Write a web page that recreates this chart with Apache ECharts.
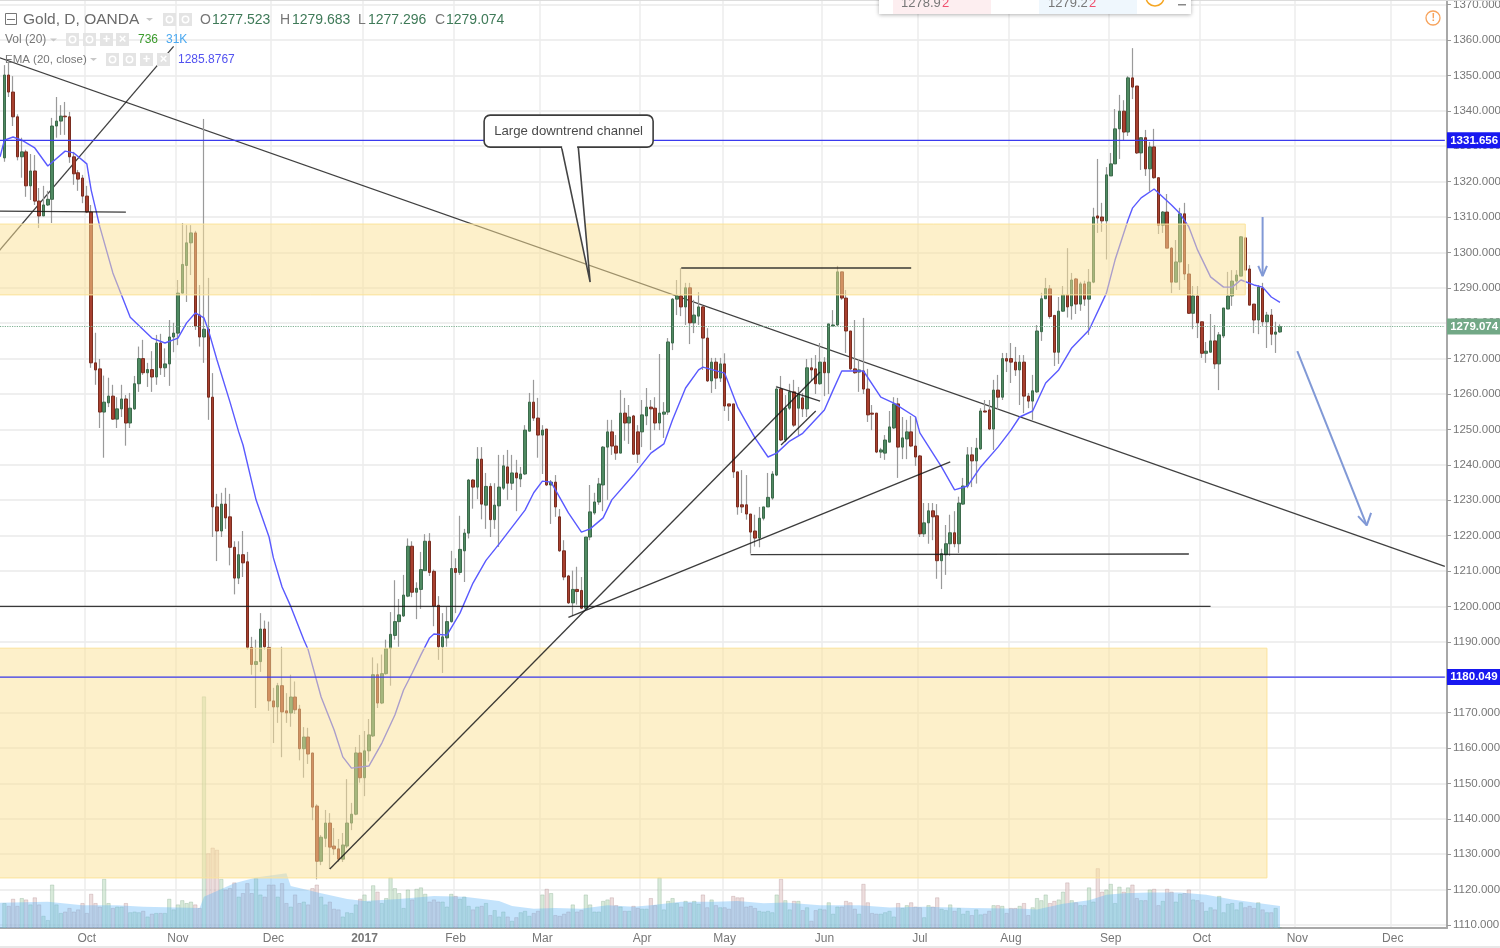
<!DOCTYPE html>
<html>
<head>
<meta charset="utf-8">
<title>Gold, D, OANDA</title>
<script src="https://cdn.jsdelivr.net/npm/echarts@6/dist/echarts.min.js"></script>
<style>
    html, body { margin: 0; padding: 0; background: #fff; }
    #chart { width: 1500px; height: 948px; filter: blur(0.35px); }
</style>
</head>
<body>
<div id="chart"></div>
<script>
// candles, oldest first
const opens = [
    1326.7,1350.1,1345.3,1338.3,1327,1328.4,1318.8,1323,1314.5,1310.3,
    1313.4,1315,1335.7,1337.1,1338.5,1338.3,1327,1322.5,1321,1315.9,
    1311.4,1268.8,1267.1,1254.9,1257.5,1259.4,1252.9,1255.8,1258.6,1251.8,
    1255.8,1262.9,1270,1266,1266.9,1264.8,1274.4,1267.4,1268.5,1276.1,
    1277.2,1288.5,1296.3,1302.7,1305.5,1282.3,1276.1,1278.3,1259.1,1228.1,
    1221.3,1228.9,1225.3,1216.7,1208,1214.6,1212.6,1188.4,1183.6,1184.4,
    1193.6,1188.4,1173.3,1171.6,1177.6,1170.5,1169.9,1174.4,1171,1159.8,
    1163.1,1158.6,1143.6,1128,1134.5,1138.8,1132.3,1131.5,1128.6,1132.3,
    1138.8,1141.3,1158.6,1151.6,1159.2,1163.4,1180.7,1172.7,1181,1188.1,
    1191.8,1195.7,1197.3,1202.9,1217,1204,1204.8,1210.1,1218.4,1209.9,
    1200.3,1188.6,1191.1,1195.7,1210.7,1209.6,1215.7,1220.7,1235.7,1233.7,
    1241.6,1228.6,1233.9,1224.5,1228.4,1233.4,1239.4,1234.8,1237.7,1236,
    1237.4,1249.5,1257.7,1253.2,1248.4,1250.1,1234.3,1235.1,1225.3,1215.7,
    1208.6,1201,1204.8,1204.5,1199.5,1219.6,1226.4,1229.5,1234.3,1245,
    1249.3,1245.3,1243.3,1254.6,1251.8,1253.8,1249.3,1249.3,1253.8,1256.3,
    1256,1251.8,1254.3,1254.9,1274.4,1286.8,1287.7,1284.6,1290,1280.1,
    1282,1284.6,1275.8,1263.7,1269,1264.5,1268.5,1257.2,1257.2,1238,
    1228.7,1228.7,1226.1,1221.3,1219.3,1224.9,1228.1,1230.6,1237.1,1261.4,
    1247,1256,1260.6,1256,1258.9,1255.8,1267.4,1267.1,1262.9,1269,
    1266,1279.2,1279.5,1294.5,1287.1,1277.8,1267.1,1266.2,1266.5,1261.4,
    1254.6,1254.6,1243.6,1243.3,1246.4,1250.4,1257.2,1245,1247.3,1249.3,
    1245.3,1242.5,1220.5,1223.6,1227,1225.6,1212.9,1214.6,1217.7,1220.8,
    1217.7,1228.9,1234,1242.8,1241.1,1244.5,1255.2,1255.5,1250.1,1261.1,
    1259.1,1270,1270,1269,1266.8,1269,1259.4,1258,1260.6,1277.6,
    1286.9,1289.7,1282.2,1271.8,1283.4,1288,1284.9,1292.5,1285.4,1291.1,
    1286.8,1291.6,1310.3,1310,1308.9,1321.6,1325,1334.9,1339.9,1334,
    1349.3,1347,1328.1,1332.4,1323.6,1329.8,1321.1,1307.7,1311.4,1301.2,
    1291.6,1297.3,1310.9,1293.9,1282.8,1287.7,1280.4,1271.5,1271.8,1275,
    1268.5,1276.4,1284,1287.7,1291.9,1293.3,1304.1,1295.3,1285.4,1280.9,
    1289.9,1280.4,1282.3,1276.9,1277.523
];
const closes = [
    1350.1,1345.3,1338.3,1327,1328.4,1318.8,1323,1314.5,1310.3,1313.4,
    1315,1335.7,1337.1,1338.5,1338.3,1327,1322.2,1320.7,1315.9,1311.4,
    1268.8,1266.8,1254.9,1257.7,1259.4,1252.9,1255.8,1258.6,1251.8,1256,
    1262.9,1270,1266,1266.9,1264.8,1274.4,1267.4,1268.5,1276.1,1277.2,
    1288.5,1296.6,1302.7,1305.5,1279.2,1276.1,1278.3,1259.1,1228.1,1221.3,
    1228.9,1225,1216.7,1208,1214.6,1212.3,1188.4,1183.6,1184.4,1193.6,
    1188.6,1173.3,1171.6,1177.6,1170.2,1169.9,1174.4,1170.8,1159.8,1163.1,
    1158.3,1143.3,1128,1134.8,1138.8,1132,1131.5,1128.6,1132.6,1138.8,
    1141.3,1158.6,1151.6,1159.2,1163.7,1180.7,1172.7,1181,1188.1,1192.1,
    1195.7,1197.6,1203.2,1217,1204,1205.1,1210.4,1218.4,1209.6,1200.1,
    1188.6,1191.4,1195.7,1210.7,1209.6,1216.1,1220.7,1235.7,1233.7,1241.6,
    1228.9,1233.9,1224.5,1228.6,1233.7,1239.7,1234.8,1237.7,1236.3,1237.4,
    1249.8,1257.7,1253.2,1248.4,1249.8,1234.3,1235.1,1228.1,1215.7,1208.3,
    1201,1204.8,1204.2,1199.5,1219.6,1226.7,1229.5,1234.6,1245,1249.3,
    1245.3,1243.3,1254.6,1251.8,1253.5,1243,1243,1254.1,1256.3,1255.8,
    1251.8,1254.6,1254.9,1274.7,1286.8,1287.7,1284.6,1290,1280.1,1282.3,
    1284.6,1275.8,1263.7,1269,1264.5,1268.5,1256.6,1256.6,1238,1228.1,
    1228.1,1226.1,1221,1219.3,1224.9,1228.1,1230.8,1237.4,1261.4,1247,
    1256,1260.6,1251.2,1260,1255.8,1267.4,1266.8,1262.9,1269,1266,
    1279.8,1279.5,1294.5,1287.1,1277.8,1267.1,1266,1266.8,1261.4,1254.1,
    1254.3,1243.6,1244.2,1247,1250.7,1257.2,1245,1247.6,1249.3,1245.3,
    1242.2,1220.5,1223.6,1227,1225.3,1212.9,1214.9,1217.7,1220.8,1217.7,
    1229.2,1234,1242.8,1241.1,1244.7,1255.2,1254.9,1250.1,1261.1,1259.1,
    1270,1269.3,1269,1266.8,1269,1259.4,1258,1260.9,1277.8,1286.9,
    1289.8,1281.9,1271.8,1283.4,1288,1284.6,1292.2,1285.4,1291.1,1286.8,
    1291.6,1310,1309.7,1308.9,1321.9,1325,1334.9,1339.9,1334,1349.3,
    1346.7,1328.1,1332.4,1323.6,1329.8,1321.1,1307.7,1311.4,1301.2,1291.6,
    1297.3,1310.9,1293.9,1282.8,1287.7,1280.1,1271.5,1272.1,1275,1268.5,
    1276.7,1284.3,1287.7,1291.9,1293.6,1304.4,1295,1285.1,1280.9,1290.2,
    1280.4,1282.3,1276.9,1277.5,1279.074
];
const highs = [
    1352.9,1353.5,1349.8,1339,1332.4,1329,1327.8,1327.5,1318.2,1318.8,
    1317.4,1338,1343.9,1341.6,1342.5,1339.7,1328.4,1323.3,1321.9,1318.8,
    1313.4,1277.3,1269.9,1265.2,1264.6,1262.6,1259.1,1262.6,1259.7,1260.3,
    1265.1,1273.4,1275.3,1268.8,1272.1,1276.7,1277,1272.9,1280.9,1280.1,
    1292.2,1308.3,1307.7,1307.7,1306.1,1290.8,1337.7,1292.8,1265.9,1231.8,
    1232.1,1233.5,1231.8,1218.4,1218.4,1221.3,1215.4,1191.4,1190.6,1198.1,
    1196,1195.7,1177,1178.4,1188.6,1175.5,1180.7,1178.8,1172.2,1165.9,
    1165.7,1158.6,1144.1,1135.4,1142.5,1141.6,1137.4,1134.3,1136,1151.2,
    1144.5,1160.3,1163.7,1164.8,1168.2,1185.6,1183.9,1186.4,1190.6,1198.4,
    1207.4,1202.1,1208.9,1219.2,1218.4,1206.8,1215.4,1220.4,1220.7,1210.4,
    1202.9,1198.1,1199.9,1215.7,1213.6,1225.6,1221.9,1236,1236,1245,
    1245,1237.7,1234.8,1234.8,1242.8,1242.8,1244.2,1242.8,1241.4,1239.4,
    1251.2,1260.3,1264,1258.9,1251.2,1250.1,1235.7,1237.1,1227.5,1218.7,
    1208.9,1210.1,1211.2,1208.3,1219.6,1234.3,1232.1,1236.3,1245.3,1252.7,
    1252.7,1248.4,1261.1,1258.9,1256.9,1254.1,1251.2,1258.3,1261.7,1258.3,
    1259.1,1271.3,1257.7,1275.8,1287.1,1292.2,1295.6,1291.4,1291.4,1286.6,
    1288.8,1284.9,1278.6,1270.2,1270.2,1270.2,1271.5,1257.2,1257.2,1238,
    1238.5,1237.1,1226.1,1225.9,1228.1,1228.1,1237.7,1238.2,1262.3,1265.1,
    1259.7,1262.9,1264,1262,1260.3,1269.9,1270.2,1271,1274.4,1270.4,
    1279.8,1283.7,1296.2,1294.5,1289.4,1277.8,1280.9,1269.9,1281.5,1267.1,
    1256.9,1254.6,1244.8,1248.4,1255.2,1259.1,1258.9,1253.5,1252.7,1253.8,
    1253.5,1242.8,1229.2,1229.2,1229.2,1228.9,1216.3,1223,1225.9,1226.9,
    1231,1236.3,1245,1245,1247.6,1256,1258.3,1258.3,1264,1265.4,
    1271.6,1271.6,1274.4,1273.3,1271,1271,1260.3,1265.4,1279.5,1288.6,
    1292.8,1290.8,1282.2,1287.4,1290.5,1301.2,1294.2,1292.8,1291.7,1292,
    1295.3,1312.6,1326.4,1314,1324.1,1328.1,1340.5,1344.5,1343,1349.8,
    1357.7,1347,1332.4,1334.6,1331.2,1334.9,1321.1,1311.7,1316.5,1301.5,
    1303.5,1312.6,1314,1296.7,1290.5,1290.5,1280.4,1274.7,1282.6,1279.5,
    1277.5,1284.3,1294.5,1295,1295,1304.6,1304.4,1296.4,1285.4,1290.8,
    1291.4,1283.2,1284,1280.4,1279.683
];
const lows = [
    1325.6,1343.9,1335.7,1326,1321.1,1315.7,1314.8,1313.4,1306.9,1310.3,
    1313.1,1308.3,1332.4,1333.2,1333.2,1325.3,1319.1,1317.4,1313.9,1311.1,
    1267.4,1262.6,1250.4,1242,1256.3,1252.7,1250.4,1253.5,1245.4,1250.4,
    1255.5,1260.6,1265.4,1262,1260.6,1262.6,1265.4,1264.8,1262.3,1271.8,
    1273.8,1288.5,1286,1293.6,1278.1,1273.4,1268.8,1252.7,1219.6,1212.8,
    1219.6,1221.9,1211.6,1203.4,1206.3,1208.3,1187.8,1180.7,1171.3,1181.5,
    1187.8,1170.5,1161.4,1167.1,1157.4,1167.1,1166,1169.6,1156.5,1151.6,
    1155.5,1139.6,1122.9,1126.9,1132,1125.8,1129.8,1127.8,1127.8,1131.7,
    1136.8,1141,1150.2,1146.4,1156.2,1163.1,1171.3,1172.4,1180.7,1177.6,
    1190.6,1188.6,1197,1202.6,1202.6,1196.4,1199.3,1210.1,1208.6,1194.4,
    1184.9,1181.2,1188.6,1195.4,1198.1,1208.9,1206.9,1219.2,1227.6,1230.3,
    1224.6,1221.9,1219.6,1221.9,1216.8,1232.9,1230.1,1232.9,1226.9,1233.7,
    1237.1,1249.5,1252.4,1242,1237.4,1234,1223.3,1225.3,1215.4,1207.4,
    1200.7,1197.3,1200.5,1199.2,1198.9,1218.7,1225.9,1228.7,1226.9,1230.1,
    1242.8,1241.4,1243.3,1246.8,1245.9,1242.8,1240.5,1245,1251.2,1244.2,
    1249.8,1249.8,1247.6,1254.1,1272.4,1282.3,1282,1279.5,1274.1,1277.2,
    1279.5,1266.8,1263.4,1260.3,1261.4,1263.4,1255.2,1252.4,1236.3,1225.9,
    1226.4,1224.5,1214.9,1216.9,1216.7,1224.3,1228.1,1230.1,1236.8,1246.7,
    1246.4,1255.5,1250.7,1248.4,1253.5,1253.5,1263.7,1260,1262.6,1259.4,
    1260,1279.2,1279.2,1286.6,1271.6,1266.8,1265.7,1260.6,1260,1252.1,
    1249.8,1243.3,1241.9,1241.4,1246.4,1250.1,1236.3,1241.6,1241.6,1245,
    1239.7,1219.6,1219.6,1217.7,1218.7,1207.8,1204.9,1208.9,1214.3,1216.7,
    1215.1,1228.7,1233.4,1233.7,1234.7,1244.2,1254.9,1249.8,1244.2,1255.5,
    1258.3,1266.2,1263.1,1265.1,1256.9,1254.6,1256,1252.7,1260.3,1275,
    1286.9,1281.3,1267.9,1268.5,1283.2,1281.6,1281,1282.6,1283.5,1284.9,
    1276.7,1291.3,1305.5,1305.8,1298,1321.6,1325,1326.4,1331.7,1332.9,
    1343.3,1327.8,1323.3,1321.6,1317.2,1320.8,1305.2,1305.5,1301.2,1288.5,
    1291.6,1289.4,1292.2,1282.6,1278.3,1275.8,1270.2,1268.8,1271.8,1267.1,
    1261.1,1275.8,1284,1284.9,1289.4,1293.3,1294.8,1285.1,1277.2,1276.9,
    1279.2,1273,1273.8,1271.6,1277.296
];
// volume in thousands
const volumes = [
    35,31,41,31,42,40,33,43,33,17, 11,61,33,21,23,28,23,26,35,21,
    48,35,30,69,35,28,30,30,35,22, 23,22,24,16,20,21,21,21,41,26,
    33,39,35,37,33,28,326,105,113,110, 69,54,56,64,44,49,63,49,70,47,
    44,61,61,44,63,35,30,47,35,37, 33,56,61,44,33,37,27,26,16,22,
    21,33,41,47,37,60,51,35,42,71, 56,49,28,54,40,55,57,48,37,40,
    37,37,30,48,45,41,44,31,26,30, 31,35,18,25,16,23,16,10,15,22,
    24,17,21,24,47,55,49,18,17,20, 23,33,23,25,47,33,23,23,38,40,
    43,32,30,24,24,31,28,27,27,42, 32,71,26,38,42,35,30,38,35,38,
    34,47,29,40,32,29,29,27,45,43, 43,30,31,28,24,23,24,22,47,69,
    39,26,38,38,25,29,10,25,27,26, 36,20,30,30,38,36,27,20,62,36,
    21,20,20,22,24,16,35,28,32,36, 30,29,15,32,30,43,27,25,33,24,
    28,20,24,18,26,19,20,24,32,32, 31,21,28,28,31,35,18,29,42,39,
    47,35,38,40,51,64,39,36,32,32, 57,37,84,51,54,62,35,58,51,57,
    61,42,39,39,54,55,32,38,55,51, 37,48,49,54,40,39,36,24,29,26,
    45,22,34,35,26,36,29,31,28,36, 26,22,22,28,0.736
];
// Vol (20) average, [bar number, thousands]
const volAverage = [
    [-6,35],[10,37],[18,32],[26,32],[32,30],[45,28],[46,44],[53,63],[58,71],[65,77],[66,59],
    [73,49],[79,41],[83,38],[91,41],[99,45],[106,44],[114,38],[117,31],[122,27],[127,28],
    [133,27],[139,32],[145,30],[149,32],[156,37],[164,37],[169,38],[175,35],[180,36],[188,32],
    [197,32],[204,29],[212,30],[223,28],[235,27],[238,26],[244,34],[250,39],[254,47],[258,49],
    [264,50],[271,50],[277,47],[283,40],[288,36],[294,31]
];
// EMA (20, close), [bar number, price]
const emaLine = [
    [-1,1327],[0,1331.7],[2,1332.6],[4,1331.7],[7,1329.5],[10,1324.4],[14,1328.6],[16,1328.1],
    [19,1325],[20,1317.6],[22,1307.2],[25,1294.2],[29,1281.7],[34,1275.8],[37,1274.4],[40,1275.8],
    [42,1280.1],[44,1282.9],[46,1281.5],[47,1278.1],[49,1269.6],[52,1257.7],[54,1249.3],[55,1245.6],
    [58,1230.1],[61,1219.6],[62,1213.7],[64,1205.5],[66,1200],[69,1190.6],[70,1187.8],[73,1174.4],
    [76,1165.1],[78,1157.5],[80,1154.3],[84,1154.9],[87,1161.4],[90,1169.3],[92,1176.4],[94,1181.2],
    [96,1186.3],[98,1191.1],[99,1192.2],[102,1191.9],[105,1198.1],[108,1206.6],[111,1213],[114,1217.6],
    [120,1227.2],[122,1232.1],[124,1235.4],[126,1235.1],[130,1226.4],[133,1221],[135,1221.9],[138,1225],
    [140,1230.1],[145,1237.1],[149,1243.3],[152,1245.9],[154,1252.7],[157,1261.7],[160,1266.8],[161,1267.6],
    [166,1265.9],[169,1256.3],[173,1247.6],[176,1242.2],[178,1243.3],[181,1246.7],[184,1248.9],[189,1255.5],
    [191,1261.1],[193,1266.5],[198,1266.5],[202,1259.1],[205,1257.4],[210,1253.5],[211,1249],[216,1239.4],
    [219,1232.9],[222,1234],[225,1239.4],[229,1245],[232,1249.8],[234,1253.5],[237,1255.2],[240,1263.1],
    [243,1266.8],[246,1273],[250,1278.1],[254,1288.5],[256,1297.9],[259,1309.2],[260,1312.5],[262,1315.4],
    [265,1317.9],[266,1316.8],[269,1313.4],[271,1310.9],[273,1307.2],[275,1300.7],[278,1293.1],[281,1290.2],
    [283,1290.2],[285,1292.2],[288,1290.8],[290,1290.2],[292,1287.4],[294,1285.9]
];
// month ticks on the time axis
const monthBars = [19,40,62,83,104,124,147,166,189,211,232,255,276,298,320];
const monthNames = ['Oct','Nov','Dec','2017','Feb','Mar','Apr','May','Jun','Jul','Aug','Sep','Oct','Nov','Dec'];
// shaded zones: [first bar, last bar, top price, bottom price]
const zones = [[-6,286,1308,1288],[-6,291,1188.2,1123.3]];
// the two long lines sit under the zones, the rest on top
const linesUnder = [
    [[-6,1357.1],[332,1211.3]],
    [[-6,1293.6],[39,1358.2]]
];
const linesOver = [
    [[-6,1311.7],[28,1311.4]],
    [[-6,1200],[278,1200]],
    [[75,1125.8],[188,1266.2]],
    [[130,1196.9],[218,1240.8]],
    [[156,1295.6],[209,1295.6]],
    [[172,1214.6],[273,1214.8]],
    [[178,1262],[188,1258]],
    [[179,1245.6],[187,1255.2]]
];
const arrowLines = [
    [[290,1310],[290,1293.3]],
    [[289,1296.2],[290,1293.3],[291,1296.2]],
    [[298,1272.1],[314,1222.9]],
    [[312,1225.5],[314,1222.9],[315,1226.4]]
];
const levelBlue = [1331.656, 1180.049];
const lastClose = 1279.074;
const calloutTip = [135, 1291.6];
const calloutText = 'Large downtrend channel';

const PRE = 6;      // empty bars left of the picture, lines and zones start there
const SLOTS = 339;
const FONT = '"Liberation Sans", Arial, sans-serif';
const GRID_LEFT = -23.8, GRID_WIDTH = 1470.8;

const categories = Array.from({ length: SLOTS }, (_, i) => String(i - PRE));
const monthOf = {};
monthBars.forEach((b, i) => { monthOf[String(b)] = monthNames[i]; });
const isMonth = (i, v) => monthOf[v] !== undefined;
const pad = Array(PRE).fill('-');
const slot = p => [p[0] + PRE, p[1]];

const wickData = pad.concat(opens.map((o, i) => [o, closes[i], lows[i], highs[i]]));
const bodyData = pad.concat(opens.map((o, i) => [o, closes[i], Math.min(o, closes[i]), Math.max(o, closes[i])]));
const volData = pad.concat(volumes.map((v, i) => {
    const up = closes[i] >= opens[i];
    return {
        value: v,
        itemStyle: up
            ? { color: 'rgba(195,222,198,0.65)', borderColor: 'rgba(125,165,135,0.5)', borderWidth: 0.6 }
            : { color: 'rgba(228,205,205,0.65)', borderColor: 'rgba(170,130,135,0.5)', borderWidth: 0.6 }
    };
}));

function drawLine(points, color, width, z) {
    return {
        type: 'line', xAxisIndex: 1, yAxisIndex: 1, data: points.map(slot),
        symbol: 'none', silent: true, z: z,
        lineStyle: { color: color, width: width }
    };
}

function renderZone(params, api) {
    const a = api.coord([api.value(0), api.value(2)]);
    const b = api.coord([api.value(1), api.value(3)]);
    return {
        type: 'rect',
        shape: { x: a[0], y: a[1], width: b[0] - a[0], height: b[1] - a[1] },
        style: { fill: 'rgba(251,226,150,0.5)', stroke: '#fbe39b', lineWidth: 1 }
    };
}

// speech bubble hung from its tip on the trend line
function renderCallout(params, api) {
    const t = api.coord([api.value(0), api.value(1)]);
    const x = t[0], y = t[1];
    return {
        type: 'group',
        children: [
            { type: 'polygon', shape: { points: [[x - 29, y - 137], [x, y], [x - 12, y - 137]] },
              style: { fill: '#fff', stroke: '#444', lineWidth: 1.6 } },
            { type: 'rect', shape: { x: x - 106, y: y - 167, width: 169, height: 32, r: 6 },
              style: { fill: '#fff', stroke: '#3c3c3c', lineWidth: 1.6 } },
            { type: 'line', shape: { x1: x - 28, y1: y - 135, x2: x - 13, y2: y - 135 },
              style: { stroke: '#fff', lineWidth: 2.5 } },
            { type: 'text', x: x - 21.5, y: y - 151,
              style: { text: calloutText, font: '13.2px ' + FONT, fill: '#4a4a4a', align: 'center', verticalAlign: 'middle' } }
        ]
    };
}

// header text and toolbar pieces
function txt(x, y, text, color, size, weight) {
    return { type: 'text', x: x, y: y, z: 20,
        style: { text: text, fill: color, font: (weight || 'normal') + ' ' + size + 'px ' + FONT, verticalAlign: 'middle' } };
}
function box(x, y, w, h, fill, stroke) {
    return { type: 'rect', z: 20, shape: { x: x, y: y, width: w, height: h },
        style: { fill: fill || 'none', stroke: stroke || 'none', lineWidth: 1 } };
}
function caret(x, y) {
    return { type: 'polygon', z: 20, shape: { points: [[x, y], [x + 7, y], [x + 3.5, y + 3]] }, style: { fill: '#c8c8c8' } };
}
// grey toolbar button with a white glyph
function button(x, y, glyph) {
    const parts = [box(x, y, 13, 13, '#e4e4e4')];
    if (glyph === 'ring') {
        parts.push({ type: 'circle', z: 21, shape: { cx: x + 6.5, cy: y + 6.5, r: 3.2 }, style: { fill: 'none', stroke: '#fff', lineWidth: 1.5 } });
    } else {
        parts.push({ type: 'text', z: 21, x: x + 6.5, y: y + 6.5, style: { text: glyph, fill: '#fff', font: 'bold 13px ' + FONT, align: 'center', verticalAlign: 'middle' } });
    }
    return parts;
}
const header = [
    box(0, 0, 1500, 1, '#dcdcdc'),
    box(0, 946, 1500, 2, '#e8e8e8'),
    box(5.5, 13.5, 11, 11, 'none', '#777'),
    box(7, 19, 8, 1, '#777'),
    txt(23, 20, 'Gold, D, OANDA', '#6b6b6b', 15.5),
    caret(146, 18),
    ...button(163, 13, 'ring'),
    ...button(179, 13, 'ring'),
    txt(200, 20.5, 'O', '#777', 14),
    txt(212, 20.5, opens[opens.length - 1].toFixed(3), '#3f7a58', 14),
    txt(280, 20.5, 'H', '#777', 14),
    txt(292, 20.5, highs[highs.length - 1].toFixed(3), '#3f7a58', 14),
    txt(358, 20.5, 'L', '#777', 14),
    txt(368, 20.5, lows[lows.length - 1].toFixed(3), '#3f7a58', 14),
    txt(435, 20.5, 'C', '#777', 14),
    txt(446, 20.5, closes[closes.length - 1].toFixed(3), '#3f7a58', 14),
    txt(5, 40, 'Vol (20)', '#777', 12),
    caret(50, 38.5),
    ...button(66, 33, 'ring'), ...button(83, 33, 'ring'), ...button(100, 33, '+'), ...button(116, 33, '×'),
    txt(138, 40, '736', '#3b9a2c', 12),
    txt(166, 40, '31K', '#4aa8f0', 12),
    txt(5, 59.5, 'EMA (20, close)', '#777', 11.5),
    caret(90, 58),
    ...button(106, 53, 'ring'), ...button(123, 53, 'ring'), ...button(140, 53, '+'), ...button(157, 53, '×'),
    txt(178, 59.5, '1285.8767', '#5252f0', 12),
    { type: 'circle', z: 20, shape: { cx: 1433, cy: 18, r: 7 }, style: { fill: '#fff', stroke: '#f7a35c', lineWidth: 1.3 } },
    txt(1431.5, 18, '!', '#f7a35c', 11, 'bold'),
    // trade widget, cut off by the top of the window
    { type: 'rect', z: 20, shape: { x: 879, y: -10, width: 312, height: 24 },
      style: { fill: '#fff', shadowBlur: 4, shadowColor: 'rgba(0,0,0,0.3)', shadowOffsetY: 1 } },
    box(893, -10, 98, 24, '#fdeef0'),
    box(1039, -10, 98, 24, '#eff7fd'),
    txt(901, 3, '1278.9', '#777', 13),
    txt(942, 3, '2', '#f0506e', 13),
    txt(1048, 3, '1279.2', '#777', 13),
    txt(1089, 3, '2', '#f0506e', 13),
    { type: 'circle', z: 20, shape: { cx: 1155, cy: -3, r: 9 }, style: { fill: '#fff', stroke: '#f5a623', lineWidth: 1.5 } },
    box(1178, 4, 8, 1.5, '#888')
];

// horizontal level: the line is a plain series, the markLine only carries the price tag
function levelSeries(value, tagColor) {
    return {
        type: 'line', xAxisIndex: 1, yAxisIndex: 1, data: [], symbol: 'none', z: 9, silent: true,
        markLine: {
            silent: true, symbol: 'none', z: 9, animation: false, precision: 3,
            lineStyle: { color: 'transparent', width: 0 },
            label: {
                show: true, position: 'end', distance: 0, color: '#fff', fontFamily: FONT, fontSize: 11.5, fontWeight: 'bold',
                backgroundColor: tagColor, width: 53, height: 16, lineHeight: 17, align: 'left',
                formatter: p => ' ' + Number(p.value).toFixed(3)
            },
            data: [{ yAxis: value }]
        }
    };
}
function levelLine(value, color, type) {
    const s = drawLine([[-6, value], [332, value]], color, 1.2, 8);
    s.lineStyle.type = type;
    return s;
}

const option = {
    animation: false,
    backgroundColor: '#fff',
    textStyle: { fontFamily: FONT },
    grid: [
        { left: GRID_LEFT, width: GRID_WIDTH, top: 0, height: 928, outerBoundsMode: 'none' },
        { left: GRID_LEFT, width: GRID_WIDTH, top: 4.6, height: 920.4, outerBoundsMode: 'none' }
    ],
    xAxis: [
        {
            type: 'category', gridIndex: 0, data: categories, boundaryGap: true,
            axisLine: { lineStyle: { color: '#a8a8a8', width: 2 } },
            axisTick: { interval: isMonth, alignWithLabel: true, length: 4, lineStyle: { color: '#888' } },
            splitLine: { show: true, interval: isMonth, lineStyle: { color: '#ececec', width: 1.5 } },
            axisLabel: {
                interval: isMonth, margin: 5, color: '#777', fontSize: 12, fontFamily: FONT, hideOverlap: false,
                formatter: v => (monthOf[v] === '2017' ? '{y|2017}' : monthOf[v]),
                rich: { y: { fontWeight: 'bold', color: '#777', fontSize: 12, fontFamily: FONT } }
            }
        },
        {
            type: 'category', gridIndex: 1, data: categories, boundaryGap: true,
            axisLine: { show: false }, axisTick: { show: false }, axisLabel: { show: false }, splitLine: { show: false }
        }
    ],
    yAxis: [
        {
            type: 'value', gridIndex: 0, position: 'right', min: 0, max: 1307,
            axisLine: { show: true, lineStyle: { color: '#a8a8a8', width: 2 } },
            axisTick: { show: false }, axisLabel: { show: false }, splitLine: { show: false }
        },
        {
            type: 'value', gridIndex: 1, position: 'right', min: 1110, max: 1370, interval: 10,
            axisLine: { show: false },
            axisTick: { show: true, length: 4, lineStyle: { color: '#999' } },
            splitLine: { show: true, lineStyle: { color: '#efefef', width: 2 } },
            axisLabel: {
                margin: 6, color: '#777', fontSize: 11.5, fontFamily: FONT, hideOverlap: false, padding: [2, 0, 0, 0],
                formatter: v => v.toFixed(3)
            }
        }
    ],
    graphic: header,
    series: [
        {
            name: 'Vol', type: 'bar', xAxisIndex: 0, yAxisIndex: 0, data: volData, barWidth: 4, z: 1, silent: true
        },
        {
            name: 'Vol MA', type: 'line', xAxisIndex: 0, yAxisIndex: 0, data: volAverage.map(slot), symbol: 'none', z: 2, silent: true,
            lineStyle: { width: 0 }, areaStyle: { color: 'rgba(100,182,248,0.55)', origin: 'start' }
        },
        drawLine(linesUnder[0], 'rgba(30,30,30,0.85)', 1.3, 3),
        drawLine(linesUnder[1], 'rgba(30,30,30,0.85)', 1.3, 3),
        {
            name: 'Wicks', type: 'candlestick', xAxisIndex: 1, yAxisIndex: 1, data: wickData, barWidth: 1, z: 3, silent: true,
            itemStyle: { color: '#9a9a9a', color0: '#9a9a9a', borderColor: '#9a9a9a', borderColor0: '#9a9a9a', borderColorDoji: '#9a9a9a', borderWidth: 1.2 }
        },
        {
            name: 'Gold', type: 'candlestick', xAxisIndex: 1, yAxisIndex: 1, data: bodyData, barWidth: 3, z: 4, silent: true,
            itemStyle: { color: '#4f8a62', color0: '#a8402f', borderColor: '#3d6b4c', borderColor0: '#7a2d20', borderColorDoji: '#555', borderWidth: 1 }
        },
        {
            name: 'EMA', type: 'line', xAxisIndex: 1, yAxisIndex: 1, data: emaLine.map(slot), symbol: 'none', z: 5, silent: true,
            lineStyle: { color: '#5a5aff', width: 1.4 }
        },
        {
            name: 'Zones', type: 'custom', xAxisIndex: 1, yAxisIndex: 1, renderItem: renderZone, z: 6, silent: true,
            encode: { x: [0, 1], y: [2, 3] }, data: zones.map(z => [z[0] + PRE, z[1] + PRE, z[2], z[3]])
        },
        ...linesOver.map(l => drawLine(l, 'rgba(25,25,25,0.85)', 1.3, 7)),
        ...arrowLines.map(l => drawLine(l, '#8199d6', 2, 7)),
        levelLine(lastClose, '#7fb193', 'dotted'),
        levelLine(levelBlue[0], '#3a3aee', 'solid'),
        levelLine(levelBlue[1], '#3a3aee', 'solid'),
        levelSeries(lastClose, '#72a886'),
        levelSeries(levelBlue[0], '#1818f0'),
        levelSeries(levelBlue[1], '#1818f0'),
        {
            name: 'Callout', type: 'custom', xAxisIndex: 1, yAxisIndex: 1, renderItem: renderCallout, z: 9, silent: true, clip: false,
            encode: { x: 0, y: 1 }, data: [slot(calloutTip)]
        }
    ]
};

const chart = echarts.init(document.getElementById('chart'), null, { renderer: 'canvas' });
chart.setOption(option);
</script>
</body>
</html>
